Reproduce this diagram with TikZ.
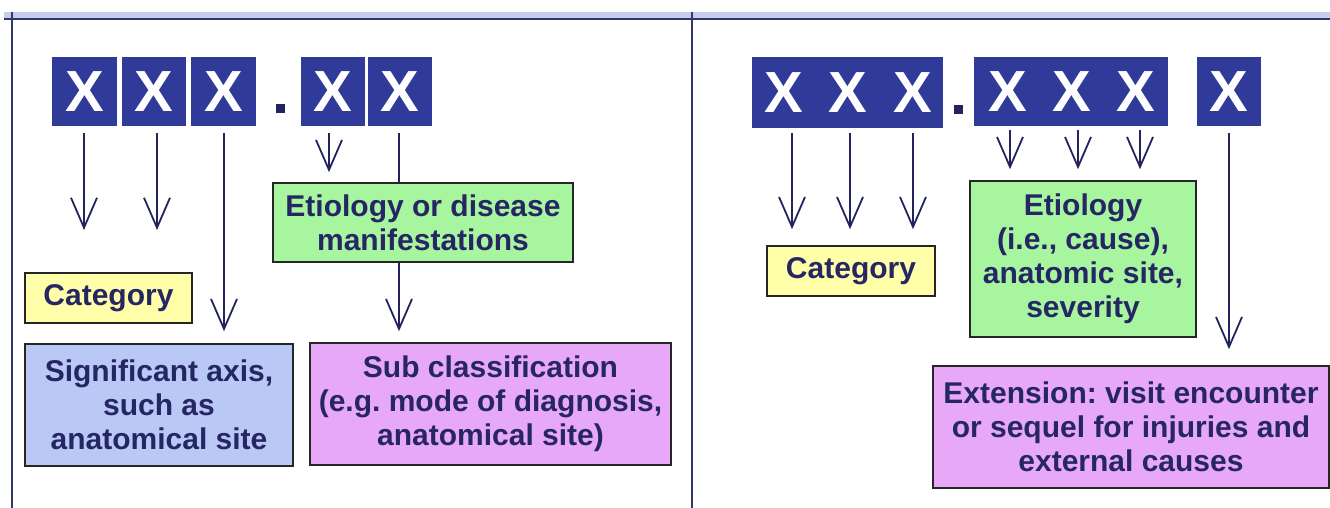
\documentclass[tikz,border=0pt]{standalone}
\usepackage{fontspec}
\setmainfont{Liberation Sans}
\usetikzlibrary{arrows.meta}
\frenchspacing
\definecolor{xblue}{RGB}{48,58,152}
\definecolor{navytxt}{RGB}{38,38,100}
\definecolor{arrcol}{RGB}{35,35,95}
\definecolor{yel}{RGB}{255,255,170}
\definecolor{grn}{RGB}{168,245,160}
\definecolor{lblue}{RGB}{185,200,245}
\definecolor{pnk}{RGB}{232,168,248}
\definecolor{band}{RGB}{200,205,238}
\definecolor{rule}{RGB}{50,55,110}
\tikzset{
  xbox/.style={fill=xblue, draw=none, inner sep=0pt},
  xlet/.style={text=white, font=\fontsize{58}{60}\selectfont\bfseries, inner sep=0pt},
  lbox/.style={draw=black!85, line width=1.6pt, align=center, text=navytxt,
    font=\fontsize{30}{34}\selectfont\bfseries, inner sep=0pt},
  arr/.style={draw=arrcol, line width=1.8pt, -{Straight Barb[length=30pt,width=26pt]}},
  ln/.style={draw=arrcol, line width=1.8pt},
  dotsq/.style={fill=arrcol, draw=none, minimum size=9pt, inner sep=0pt},
}
\begin{document}
\begin{tikzpicture}[x=1pt,y=-1pt]
\path[use as bounding box, fill=white] (0,0) rectangle (1330,508);
% frame
\fill[band] (4,12) rectangle (1330,19);
\draw[rule, line width=2pt] (4,19.5) -- (1330,19.5);
\draw[rule, line width=1.5pt] (12,12) -- (12,508);
\draw[rule, line width=1.5pt] (692,12) -- (692,508);

% ---------- left panel ----------
\node[xbox, minimum width=65pt, minimum height=69pt] (bx1) at (84.5,91.5) {};
\node[xbox, minimum width=64pt, minimum height=69pt] (bx2) at (154,91.5) {};
\node[xbox, minimum width=65pt, minimum height=69pt] (bx3) at (223.5,91.5) {};
\node[xbox, minimum width=64pt, minimum height=69pt] (bx4) at (333,91.5) {};
\node[xbox, minimum width=64pt, minimum height=69pt] (bx5) at (400,91.5) {};
\foreach \n in {bx1,bx2,bx3,bx4,bx5} \node[xlet] at (\n) {X};
\node[dotsq] (dl) at (280,108.5) {};

\node[lbox, fill=yel, minimum width=167pt, minimum height=50pt] (cat1) at (108.5,298) {Category};
\node[lbox, fill=lblue, minimum width=268pt, minimum height=122pt] (sig) at (159,405)
  {Significant axis,\\such as\\anatomical site};
\node[lbox, fill=grn, minimum width=300pt, minimum height=79pt] (etio1) at (423,222.5)
  {Etiology or disease\\manifestations};
\node[lbox, fill=pnk, minimum width=361pt, minimum height=122pt] (sub) at (490.5,404)
  {Sub classification\\(e.g. mode of diagnosis,\\anatomical site)};

\coordinate (a1) at (84,230);
\coordinate (a2) at (157,230);
\draw[arr, shorten <=7pt] (bx1.south -| a1) -- (a1);
\draw[arr, shorten <=7pt] (bx2.south -| a2) -- (a2);
\coordinate (a3) at (224,0);
\draw[arr, shorten <=7pt, shorten >=12pt] (bx3.south -| a3) -- (sig.north -| a3);
\coordinate (a4) at (329,0);
\draw[arr, shorten <=7pt, shorten >=10pt] (bx4.south -| a4) -- (etio1.north -| a4);
\coordinate (a5) at (399,0);
\draw[ln, shorten <=7pt] (bx5.south -| a5) -- (etio1.north -| a5);
\draw[arr, shorten >=11pt] (etio1.south -| a5) -- (sub.north -| a5);

% ---------- right panel ----------
\node[xbox, minimum width=191pt, minimum height=71pt] (rb1) at (847.5,92.5) {};
\node[xbox, minimum width=194pt, minimum height=69pt] (rb2) at (1071,91.5) {};
\node[xbox, minimum width=64pt, minimum height=69pt] (rb3) at (1229,91.5) {};
\node[xlet] at (784,92.5) {X};
\node[xlet] at (848,92.5) {X};
\node[xlet] at (913,92.5) {X};
\node[xlet] at (1008,91.5) {X};
\node[xlet] at (1072,91.5) {X};
\node[xlet] at (1136,91.5) {X};
\node[xlet] at (rb3) {X};
\node[dotsq] (dr) at (958,110) {};

\node[lbox, fill=yel, minimum width=168pt, minimum height=50pt] (cat2) at (851,271) {Category};
\node[lbox, fill=grn, minimum width=226pt, minimum height=156pt] (etio2) at (1083,259)
  {Etiology\\(i.e., cause),\\anatomic site,\\severity};
\node[lbox, fill=pnk, minimum width=396pt, minimum height=122pt] (ext) at (1131,427)
  {Extension: visit encounter\\or sequel for injuries and\\external causes};

\foreach \xx in {792,850,913} {
  \coordinate (c\xx) at (\xx,0);
  \draw[arr, shorten <=5pt, shorten >=16pt] (rb1.south -| c\xx) -- (cat2.north -| c\xx);
}
\foreach \xx in {1010,1078,1140} {
  \coordinate (d\xx) at (\xx,0);
  \draw[arr, shorten <=4pt, shorten >=11pt] (rb2.south -| d\xx) -- (etio2.north -| d\xx);
}
\draw[arr, shorten <=7pt, shorten >=16pt] (rb3.south) -- (ext.north -| rb3);
\end{tikzpicture}
\end{document}
